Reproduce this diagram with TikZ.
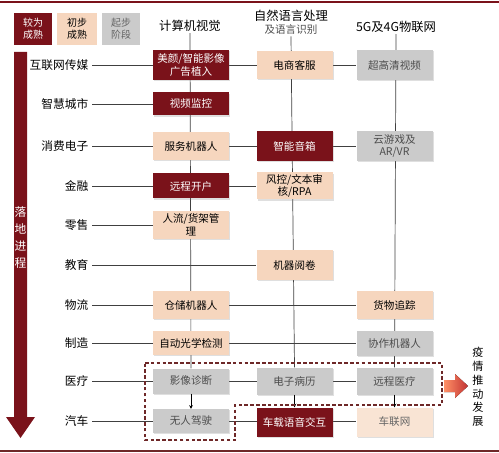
\documentclass[tikz,border=0pt]{standalone}
\usepackage{fontspec}
\setmainfont{Noto Sans CJK SC}
\usetikzlibrary{arrows.meta,backgrounds,shadows}

\definecolor{maturered}{RGB}{122,18,26}
\definecolor{earlypeach}{RGB}{246,214,190}
\definecolor{lightpeach}{RGB}{249,228,212}
\definecolor{nascentgray}{RGB}{203,203,203}
\definecolor{framebrown}{RGB}{110,40,40}

\tikzset{
  techbox/.style={minimum width=2.28cm, minimum height=0.8cm, inner sep=1pt,
    align=center, font=\fontsize{9}{11}\selectfont,
    drop shadow={opacity=0.25, shadow xshift=1pt, shadow yshift=-1pt}},
  boxh/.style={minimum height=#1*0.03cm},
  maturebox/.style={techbox, fill=maturered, text=white},
  earlybox/.style={techbox, fill=earlypeach, text=black},
  nascentbox/.style={techbox, fill=nascentgray, text=black!70},
  rowlabel/.style={anchor=east, inner xsep=3pt, font=\fontsize{10}{12}\selectfont},
  colhead/.style={font=\fontsize{10.5}{12}\selectfont, inner sep=1pt},
  legendbox/.style={minimum height=32*0.03cm, inner sep=0pt, align=center,
    font=\fontsize{8.5}{10}\selectfont},
  rowline/.style={draw=black!75, line width=0.6pt},
  stagearrow/.style={-{Stealth[length=3pt,width=3pt]}, line width=0.6pt}
}

\begin{document}
\begin{tikzpicture}[x=0.03cm, y=-0.03cm]
\useasboundingbox (0,0) rectangle (499,453);

% top and bottom rules
\draw[maturered, line width=1.5pt] (0,2) -- (499,2);
\draw[framebrown, line width=2pt] (0,451) -- (499,451);

% legend
\node[legendbox, fill=maturered, text=white, minimum width=38*0.03cm] (legMature) at (33,29) {较为\\成熟};
\node[legendbox, fill=earlypeach, minimum width=40*0.03cm] (legEarly) at (77,29) {初步\\成熟};
\node[legendbox, fill=nascentgray, text=black!60, minimum width=38*0.03cm] (legNascent) at (121,29) {起步\\阶段};

% column headers
\node[colhead] (hCV) at (190,26) {计算机视觉};
\node[colhead] (hNLP) at (291,16) {自然语言处理};
\node[colhead, font=\fontsize{9}{11}\selectfont, text=black!70] (hNLPb) at (291,30) {及语言识别};
\node[colhead] (hIoT) at (396,27) {5G及4G物联网};

% progress bar on the left
\fill[maturered] (14,52) -- (27,52) -- (27,417) -- (35,417) -- (20.5,438) -- (6,417) -- (14,417) -- cycle;
\node[text=white, font=\fontsize{10}{14.5}\selectfont, align=center, inner sep=0pt] (progress) at (20.5,238) {落\\地\\进\\程};

% row labels
\node[rowlabel] (lMedia) at (92,65) {互联网传媒};
\node[rowlabel] (lCity) at (92,104) {智慧城市};
\node[rowlabel] (lConsumer) at (92,146) {消费电子};
\node[rowlabel] (lFinance) at (92,186) {金融};
\node[rowlabel] (lRetail) at (92,225) {零售};
\node[rowlabel] (lEdu) at (92,265) {教育};
\node[rowlabel] (lLogistics) at (92,305) {物流};
\node[rowlabel] (lMfg) at (92,343) {制造};
\node[rowlabel] (lMed) at (92,381) {医疗};
\node[rowlabel] (lAuto) at (92,421) {汽车};

% computer vision
\node[maturebox, boxh=30] (bBeauty) at (191,65) {美颜/智能影像\\广告植入};
\node[maturebox, boxh=23] (bSurveil) at (191,104) {视频监控};
\node[earlybox, boxh=28] (bService) at (191,146) {服务机器人};
\node[maturebox, boxh=25] (bAccount) at (191,186) {远程开户};
\node[earlybox, boxh=28] (bFlow) at (191,225) {人流/货架管\\理};
\node[earlybox, boxh=28] (bWarehouse) at (191,305) {仓储机器人};
\node[earlybox, boxh=24] (bAOI) at (191,343) {自动光学检测};
\node[nascentbox, boxh=25] (bImaging) at (191,381) {影像诊断};
\node[nascentbox, boxh=24] (bDriverless) at (191,421) {无人驾驶};

% language
\node[earlybox, boxh=28] (bEcom) at (294.5,65) {电商客服};
\node[maturebox, boxh=30] (bSpeaker) at (294.5,146) {智能音箱};
\node[earlybox, boxh=27] (bRisk) at (294.5,186) {风控/文本审\\核/RPA};
\node[earlybox, boxh=30] (bGrading) at (294.5,265) {机器阅卷};
\node[nascentbox, boxh=27] (bRecord) at (294.5,381) {电子病历};
\node[maturebox, boxh=29] (bVoice) at (294.5,422) {车载语音交互};

% 5G / IoT
\node[nascentbox, boxh=30] (bUHD) at (394.5,65) {超高清视频};
\node[nascentbox, boxh=30] (bCloudGame) at (394.5,146) {云游戏及\\AR/VR};
\node[earlybox, boxh=28] (bTracking) at (394.5,305) {货物追踪};
\node[nascentbox, boxh=25] (bCobot) at (394.5,343) {协作机器人};
\node[nascentbox, boxh=27] (bTelemed) at (394.5,381) {远程医疗};
\node[techbox, fill=lightpeach, text=black!60, boxh=29] (bIoV) at (394.5,422) {车联网};

% epidemic
\fill[left color=orange!55!red!60, right color=red!70!black!80] (444,380) -- (455,380) -- (455,374) -- (468,386) -- (455,398) -- (455,392) -- (444,392) -- cycle;
\node[font=\fontsize{9.5}{11.8}\selectfont, align=center, inner sep=0pt] (epidemic) at (478,387) {疫\\情\\推\\动\\发\\展};

\begin{scope}[on background layer]
  \draw[rowline] (lMedia.east) -- (bUHD.west);
  \draw[rowline] (lCity.east) -- (bSurveil.west);
  \draw[rowline] (lConsumer.east) -- (bCloudGame.west);
  \draw[rowline] (lFinance.east) -- (bRisk.west);
  \draw[rowline] (lRetail.east) -- (bFlow.west);
  \draw[rowline] (lEdu.east) -- (bGrading.west);
  \draw[rowline] (lLogistics.east) -- (bTracking.west);
  \draw[rowline] (lMfg.east) -- (bCobot.west);
  \draw[rowline] (lMed.east) -- (bTelemed.west);
  \draw[rowline] (lAuto.east) -- (bDriverless.east -| bIoV.west);
  \draw[rowline] (hCV.south) -- (bImaging.north);
  \draw[rowline] (hNLPb.south) -- (bRecord.north);
  \draw[rowline] (hIoT.south) -- (bTelemed.north);
\end{scope}

% stage arrows
\draw[stagearrow] (bImaging.south) -- (bDriverless.north);
\draw[stagearrow] (bRecord.south) -- (bVoice.north);
\draw[stagearrow] (bTelemed.south) -- (bIoV.north);

% epidemic-driven group
\draw[framebrown, line width=0.9pt, dash pattern=on 3pt off 2pt]
  (145,363) -- (442,363) -- (442,405) -- (235,405) -- (235,440) -- (145,440) -- cycle;
\end{tikzpicture}
\end{document}
